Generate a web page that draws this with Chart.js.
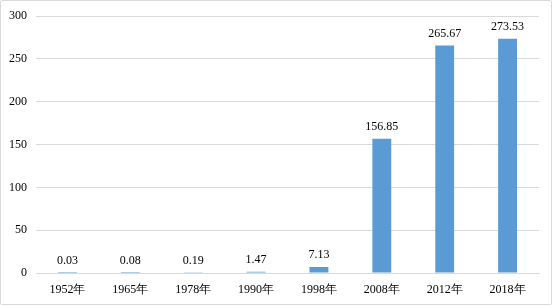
<!DOCTYPE html>
<html><head><meta charset="utf-8">
<script src="https://cdn.jsdelivr.net/npm/chart.js@4"></script>
<style>
html,body{margin:0;padding:0;background:#fff;}
#wrap{position:relative;width:554px;height:306px;}
#frame{position:absolute;left:0;top:0;width:550px;height:303px;border:1px solid #d9d9d9;border-radius:2px;pointer-events:none;}
</style></head>
<body>
<div id="wrap"><canvas id="c" width="554" height="306"></canvas><div id="frame"></div></div>
<script>
const categories = ['1952年','1965年','1978年','1990年','1998年','2008年','2012年','2018年'];
const values = [0.03, 0.08, 0.19, 1.47, 7.13, 156.85, 265.67, 273.53];
const valueLabels = ['0.03','0.08','0.19','1.47','7.13','156.85','265.67','273.53'];
const yMin = 0, yMax = 300, yStep = 50;

const FONT = '"Liberation Serif", "Times New Roman", serif';

const labelPlugin = {
  id: 'valueLabels',
  afterDatasetsDraw(chart) {
    const ctx = chart.ctx;
    const meta = chart.getDatasetMeta(0);
    ctx.save();
    ctx.font = '12px ' + FONT;
    ctx.fillStyle = '#000';
    ctx.textAlign = 'center';
    ctx.textBaseline = 'bottom';
    meta.data.forEach((bar, i) => {
      ctx.fillText(valueLabels[i], bar.x, bar.y - 6);
    });
    ctx.restore();
  }
};

new Chart(document.getElementById('c'), {
  type: 'bar',
  data: {
    labels: categories,
    datasets: [{
      data: values,
      backgroundColor: '#5b9bd5',
      borderWidth: 0,
      barPercentage: 0.6,
      categoryPercentage: 0.5
    }]
  },
  options: {
    responsive: false,
    animation: false,
    devicePixelRatio: 1,
    layout: { padding: { top: 14, right: 15, left: 0, bottom: 0 } },
    plugins: { legend: { display: false }, tooltip: { enabled: false } },
    scales: {
      x: {
        grid: { display: false, drawTicks: false },
        border: { display: true, color: '#d9d9d9', width: 1 },
        ticks: { color: '#000', font: { family: FONT, size: 12 }, padding: 10, maxRotation: 0, autoSkip: false },
        afterFit(s) { s.height = 33; }
      },
      y: {
        min: yMin, max: yMax,
        grid: { color: '#d9d9d9', drawTicks: false },
        border: { display: false },
        ticks: { stepSize: yStep, color: '#000', font: { family: FONT, size: 12 }, padding: 9 },
        afterFit(s) { s.width = 36; }
      }
    }
  },
  plugins: [labelPlugin]
});
</script>
</body></html>
